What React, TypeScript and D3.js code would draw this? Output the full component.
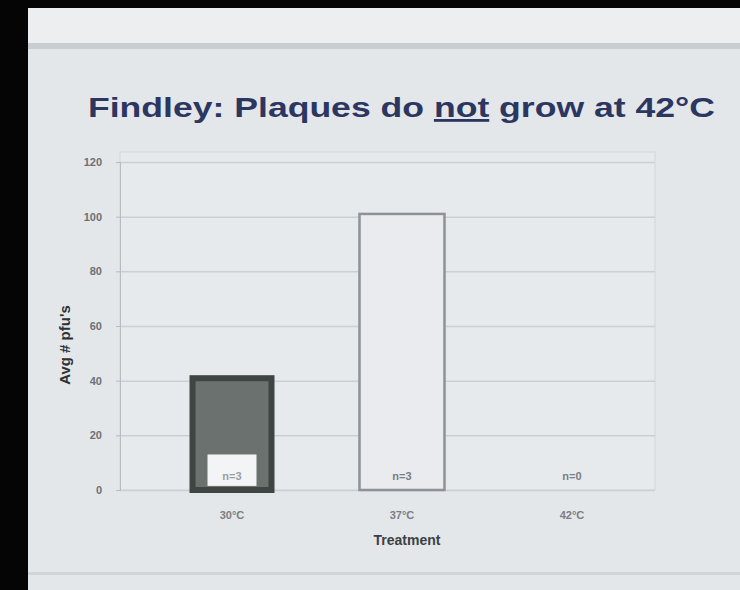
import React, { useEffect, useRef } from "react";
import * as d3 from "d3";

// Data
const categories = ["30°C", "37°C", "42°C"];
const values = [42, 101, 0];
const barLabels = ["n=3", "n=3", "n=0"];
const yTicks = [0, 20, 40, 60, 80, 100, 120];

export default function App() {
  const svgRef = useRef<SVGSVGElement>(null);

  useEffect(() => {
    if (!svgRef.current) return;
    const svg = d3.select(svgRef.current);
    svg.selectAll("*").remove();

    const W = 740, H = 590;
    const font = "Liberation Sans, Arial, sans-serif";

    // Photo frame: black edges, grey slide
    svg.append("rect").attr("width", W).attr("height", H).attr("fill", "#050505");
    svg.append("rect").attr("x", 28).attr("y", 8).attr("width", W - 28).attr("height", H - 8)
      .attr("fill", "#e4e7ea");
    svg.append("rect").attr("x", 28).attr("y", 8).attr("width", W - 28).attr("height", 36)
      .attr("fill", "#eceef0");
    svg.append("rect").attr("x", 28).attr("y", 43).attr("width", W - 28).attr("height", 6)
      .attr("fill", "#c9cdd1");
    svg.append("rect").attr("x", 28).attr("y", 572).attr("width", W - 28).attr("height", 3)
      .attr("fill", "#d2d5d8");

    // Title
    const title = svg.append("text")
      .attr("x", 88).attr("y", 117)
      .attr("textLength", 627).attr("lengthAdjust", "spacingAndGlyphs")
      .style("font-family", font).style("font-size", "28px").style("font-weight", "700")
      .attr("fill", "#2b3661");
    title.append("tspan").text("Findley: Plaques do ");
    title.append("tspan").attr("text-decoration", "underline").text("not");
    title.append("tspan").text(" grow at 42°C");

    const left = 120, right = 655, top = 162, bottom = 490;

    const x = d3.scaleBand<string>().domain(categories).range([147, 657])
      .paddingInner(0.5).paddingOuter(0.25);
    const y = d3.scaleLinear().domain([0, 120]).range([bottom, top]);

    // Plot frame + grid
    svg.append("rect").attr("x", left).attr("y", top - 10).attr("width", right - left)
      .attr("height", bottom - top + 10).attr("fill", "#e7eaed").attr("stroke", "#d3d6d9");
    svg.append("g").attr("transform", `translate(${left},0)`)
      .call(d3.axisLeft(y).tickValues(yTicks).tickSize(-(right - left)).tickFormat(() => ""))
      .call(g => g.select(".domain").remove())
      .selectAll("line").attr("stroke", "#cbcfd3").attr("stroke-width", 1.5);

    // Y axis
    const yAxis = svg.append("g").attr("transform", `translate(${left},0)`)
      .call(d3.axisLeft(y).tickValues(yTicks).tickSize(4).tickPadding(14));
    yAxis.select(".domain").attr("stroke", "#b8bcc0");
    yAxis.selectAll("line").attr("stroke", "#b8bcc0");
    yAxis.selectAll("text").attr("fill", "#6c7074")
      .style("font-family", font).style("font-size", "11px").style("font-weight", "700");

    // Bars
    const bars = values.map((v, i) => ({ cat: categories[i], v, label: barLabels[i] }));
    bars.forEach((d, i) => {
      const bx = x(d.cat)!;
      const bw = x.bandwidth();
      if (d.v > 0) {
        if (i === 0) {
          svg.append("rect").attr("x", bx + 3).attr("y", y(d.v) + 3).attr("width", bw - 6)
            .attr("height", y(0) - y(d.v) - 3)
            .attr("fill", "#6a716e").attr("stroke", "#3f4543").attr("stroke-width", 6);
          svg.append("rect").attr("x", bx + 18).attr("y", y(13)).attr("width", bw - 36)
            .attr("height", y(1.5) - y(13)).attr("fill", "#f3f4f5");
        } else {
          svg.append("rect").attr("x", bx).attr("y", y(d.v)).attr("width", bw)
            .attr("height", y(0) - y(d.v))
            .attr("fill", "#e9ebee").attr("stroke", "#8d9296").attr("stroke-width", 2.5);
        }
      }
      svg.append("text").attr("x", bx + bw / 2).attr("y", y(3.5))
        .attr("text-anchor", "middle")
        .style("font-family", font).style("font-size", "11px").style("font-weight", "700")
        .attr("fill", i === 0 ? "#9a9ea2" : "#7a7e82").text(d.label);
    });

    // X axis labels
    svg.append("g").selectAll("text").data(categories).join("text")
      .attr("x", d => x(d)! + x.bandwidth() / 2).attr("y", 519)
      .attr("text-anchor", "middle")
      .style("font-family", font).style("font-size", "11px").style("font-weight", "700")
      .attr("fill", "#7a7e82").text(d => d);

    svg.append("text").attr("x", 407).attr("y", 545).attr("text-anchor", "middle")
      .style("font-family", font).style("font-size", "14px").style("font-weight", "700")
      .attr("fill", "#3c4044").text("Treatment");

    svg.append("text").attr("transform", "rotate(-90)")
      .attr("x", -345).attr("y", 70).attr("text-anchor", "middle")
      .style("font-family", font).style("font-size", "15px").style("font-weight", "700")
      .attr("fill", "#2e3236").text("Avg # pfu's");
  }, []);

  return (
    <svg ref={svgRef} width={740} height={590}
      style={{ position: "absolute", left: 0, top: 0, display: "block" }} />
  );
}
